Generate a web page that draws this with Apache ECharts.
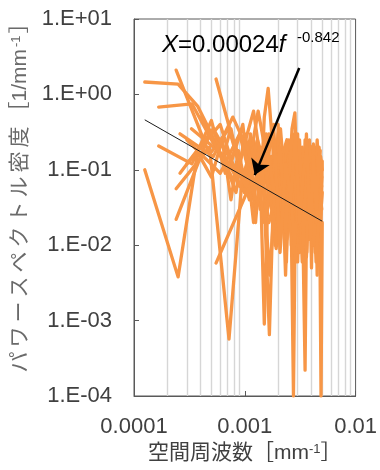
<!DOCTYPE html>
<html>
<head>
<meta charset="utf-8">
<script src="https://cdn.jsdelivr.net/npm/echarts@6/dist/echarts.min.js"></script>
<style>
html,body{margin:0;padding:0;background:#fff;}
#c{width:380px;height:470px;}
</style>
</head>
<body>
<div id="c"></div>
<script>
// ---- frequency grids (spatial frequency, mm^-1) ----
const freq1 = [0.000125,0.00025,0.000375,0.0005,0.000625,0.00075,0.000875,0.001,0.001125,0.00125,0.001375,0.0015,0.001625,0.00175,0.001875,0.002,0.002125,0.00225,0.002375,0.0025,0.002625,0.00275,0.002875,0.003,0.003125,0.00325,0.003375,0.0035,0.003625,0.00375,0.003875,0.004,0.004125,0.00425,0.004375,0.0045,0.004625,0.00475,0.004875,0.005];
const freq2 = [0.000167,0.000333,0.0005,0.000667,0.000833,0.001,0.001167,0.001333,0.0015,0.001667,0.001833,0.002,0.002167,0.002333,0.0025,0.002667,0.002833,0.003,0.003167,0.003333,0.0035,0.003667,0.003833,0.004,0.004167,0.004333,0.0045,0.004667,0.004833,0.005];
const freq3 = [0.00024,0.00048,0.00072,0.00096,0.0012,0.00144,0.00168,0.00192,0.00216,0.0024,0.00264,0.00288,0.00312,0.00336,0.0036,0.00384,0.00408,0.00432,0.00456,0.0048];
const freq4 = [0.00033,0.00066,0.00099,0.00132,0.00165,0.00198,0.00231,0.00264,0.00297,0.0033,0.00363,0.00396,0.00429,0.00462,0.00495];
const freq5 = [0.00055,0.0011,0.00165,0.0022,0.00275,0.0033,0.00385,0.0044,0.00495];
const freq6 = [0.0004,0.0008,0.0012,0.0016,0.002,0.0024,0.0028,0.0032,0.0036,0.004,0.0044,0.0048];
const freq7 = [0.0003,0.0006,0.0009,0.0012,0.0015,0.0018,0.0021,0.0024,0.0027,0.003,0.0033,0.0036,0.0039,0.0042,0.0045,0.0048];
const freq8 = [0.00026,0.00052,0.00078,0.00104,0.0013,0.00156,0.00182,0.00208,0.00234,0.0026,0.00286,0.00312,0.00338,0.00364,0.0039,0.00416,0.00442,0.00468,0.00494];

// ---- power spectral density values (1/mm^-1) ----
const psdA = [1.46,1.37,0.7,0.3,0.14,0.35,0.12,0.2,0.06,0.15,0.03,0.5,1.2,0.3,0.08,0.2,0.02,0.15,0.04,0.25,0.01,0.2,0.05,0.3,0.015,0.12,0.03,0.25,0.008,0.15,0.02,0.2,0.012,0.1,0.03,0.18,0.007,0.09,0.02,0.13];
const psdB = [0.1,0.0038,0.17,0.08,0.25,0.04,0.18,0.07,0.3,0.02,0.1,0.0009,0.06,0.15,0.01,0.4,0.03,0.12,0.006,0.09,0.02,0.0001,0.08,0.01,0.2,0.04,0.006,0.00022,0.05,0.012,0.1,0.005,0.07,0.015,0.12,0.009,0.06,0.018,0.0001,0.02];
const psdC = [0.68,0.75,0.25,0.12,0.05,0.3,0.1,0.15,0.04,0.00065,0.08,0.3,0.02,0.18,0.05,0.35,0.57,0.03,0.2,0.01,0.15,0.04,0.25,0.008,0.12,0.03,0.2,0.05,0.15,0.1];
const psdD = [0.207,0.12,0.45,0.09,0.2,0.05,0.12,0.2,0.1,0.04,0.2,0.015,0.1,0.004,0.08,0.025,0.15,0.006,0.1,0.03,0.18,0.012,0.07,0.2,0.01,0.09,0.004,0.06,0.025,0.05];
const psdE = [2.1,0.16,0.35,0.08,0.25,0.06,0.15,0.03,0.2,0.012,0.1,0.3,0.02,0.14,0.007,0.08,0.15,0.02,0.11,0.04];
const psdF = [0.056,0.2,0.00057,0.1,0.04,0.2,0.05,0.009,0.1,0.03,0.15,0.05,0.008,0.12,0.03,0.2,0.01,0.09,0.02,0.07];
const psdG = [0.022,0.3,0.1,0.4,0.02,0.1,0.004,0.08,0.02,0.15,0.04,0.006,0.1,0.02,0.3,0.015,0.06,0.008,0.04,0.09];
const psdH = [0.35,0.15,0.05,0.6,0.1,0.02,0.2,0.05,0.25,0.01,0.12,0.04,0.2,0.015,0.08];
const psdI = [1.6,0.04,0.3,0.08,0.2,0.03,0.15,0.05,0.1];
const psdJ = [0.0058,0.06,0.02,0.1,0.008,0.07,0.02,0.12,0.03];
const psdK = [0.5,0.07,0.6,0.03,0.1,0.25,0.01,0.12,0.04,0.2,0.006,0.06];
const psdM = [0.25,0.09,0.3,0.05,0.15,0.25,0.012,0.1,0.3,0.02,0.2,0.008,0.15,0.03,0.25,0.04];
const psdN = [0.12,0.4,0.06,0.2,0.02,0.1,0.35,0.03,0.08,0.15,0.006,0.1,0.2,0.01,0.07,0.18];
const psdO = [0.3,0.15,0.5,0.2,0.08,0.3,0.05,0.2,0.015,0.18,0.06,0.25,0.01,0.14,0.05,0.22,0.02,0.1,0.06];
const psdP = [0.09,0.35,0.12,0.06,0.25,0.1,0.4,0.008,0.12,0.04,0.3,0.02,0.09,0.2,0.012,0.15,0.03,0.2,0.08];

// ---- regression X = 0.00024 f^-0.842 (end points) ----
const fitF = [0.000125, 0.005];
const fitX = [0.46, 0.0208];

// ---- axes ----
const xMin = 0.0001, xMax = 0.01;
const yMin = 0.0001, yMax = 10;
const minorGrid = [0.0002,0.0003,0.0004,0.0005,0.0006,0.0007,0.0008,0.0009,0.002,0.003,0.004,0.005,0.006,0.007,0.008,0.009];
const arrowFrom = [0.0031, 2.24];
const arrowTo = [0.00123, 0.085];

const xName = '空間周波数';
const yName = 'パワースペクトル密度';

const pairs = [
  [freq1, psdA],[freq1, psdB],[freq2, psdC],[freq2, psdD],
  [freq3, psdE],[freq3, psdF],[freq3, psdG],[freq4, psdH],
  [freq5, psdI],[freq5, psdJ],[freq6, psdK],[freq7, psdM],
  [freq7, psdN],[freq8, psdO],[freq8, psdP]
];

const ORANGE = '#F79646';
const LATIN = '"Liberation Sans", Arial, "Noto Sans CJK JP", sans-serif';

function fmtE(v){
  const e = Math.round(Math.log10(v));
  return '1.E' + (e < 0 ? '-' : '+') + String(Math.abs(e)).padStart(2,'0');
}

const series = [];
series.push({
  type:'line', z:1, silent:true, symbol:'none',
  data:[[0.001, 1]],
  markLine:{
    silent:true, z:1, symbol:['none','none'], label:{show:false},
    lineStyle:{color:'#d6d6d6', width:1.4, type:'solid', opacity:1},
    emphasis:{disabled:true},
    data: minorGrid.map(v => [{coord:[v, yMin]}, {coord:[v, yMax]}])
  }
});
pairs.forEach(([f, v]) => {
  series.push({
    type:'line', z:3, symbol:'none', silent:true,
    lineStyle:{color:ORANGE, width:3.3, join:'round', cap:'round'},
    data: f.map((x,i) => [x, v[i]])
  });
});
series.push({
  type:'line', z:5, symbol:'none', silent:true,
  lineStyle:{color:'#1a1a1a', width:1},
  data: fitF.map((x,i) => [x, fitX[i]]),
  markLine:{
    silent:true, z:6, symbol:['none','arrow'], symbolSize:15,
    label:{show:false},
    lineStyle:{color:'#000', width:2.5, type:'solid'},
    emphasis:{disabled:true},
    data:[[{coord:arrowFrom},{coord:arrowTo}]]
  }
});

const yNameRich = yName.split('').map(c => '{c|' + c + '}').join('') + '{c|［1/mm}{s|-1}{c|］}';

const chart = echarts.init(document.getElementById('c'), null, {renderer:'canvas'});
chart.setOption({
  animation:false,
  backgroundColor:'#fff',
  grid:{left:134, right:22, top:19, bottom:74, show:true, borderColor:'#595959', borderWidth:1, backgroundColor:'transparent'},
  xAxis:{
    type:'log', logBase:10, min:xMin, max:xMax,
    name: xName + '［mm{s|-1}］',
    nameLocation:'middle', nameGap:42,
    nameTextStyle:{fontSize:21, color:'#404040', fontFamily:LATIN,
      rich:{s:{fontSize:13, verticalAlign:'top', color:'#404040', fontFamily:LATIN}}},
    axisLine:{show:true, lineStyle:{color:'#595959'}},
    axisTick:{show:true, inside:true, length:5, lineStyle:{color:'#595959'}},
    splitLine:{show:false},
    axisLabel:{fontSize:22, color:'#404040', fontFamily:LATIN, margin:20,
      formatter: v => String(Number(Number(v).toPrecision(1)))}
  },
  yAxis:{
    type:'log', logBase:10, min:yMin, max:yMax,
    name: yNameRich,
    nameLocation:'middle', nameGap:98, nameRotate:90,
    nameTextStyle:{fontSize:21, color:'#6a6a6a', fontFamily:LATIN, padding:[0,0,0,30],
      rich:{
        c:{fontSize:21, color:'#6a6a6a', fontFamily:LATIN, padding:[0,2,0,2]},
        s:{fontSize:13, verticalAlign:'top', color:'#6a6a6a', fontFamily:LATIN}
      }},
    axisLine:{show:true, lineStyle:{color:'#595959'}},
    axisTick:{show:true, inside:true, length:5, lineStyle:{color:'#595959'}},
    splitLine:{show:false},
    axisLabel:{fontSize:22, color:'#404040', fontFamily:LATIN, margin:22, formatter: fmtE}
  },
  graphic:[
    {type:'text', left:162, top:33, silent:true, z:20,
      style:{text:'{i|X}=0.00024{i|f}', fill:'#000', font:'24px "Liberation Sans", Arial, sans-serif',
        rich:{i:{fontStyle:'italic', fontSize:24, fontFamily:'"Liberation Sans", Arial, sans-serif'}}}},
    {type:'text', left:297, top:30, silent:true, z:20,
      style:{text:'-0.842', fill:'#000', font:'15px "Liberation Sans", Arial, sans-serif'}}
  ],
  series: series
});
</script>
</body>
</html>
